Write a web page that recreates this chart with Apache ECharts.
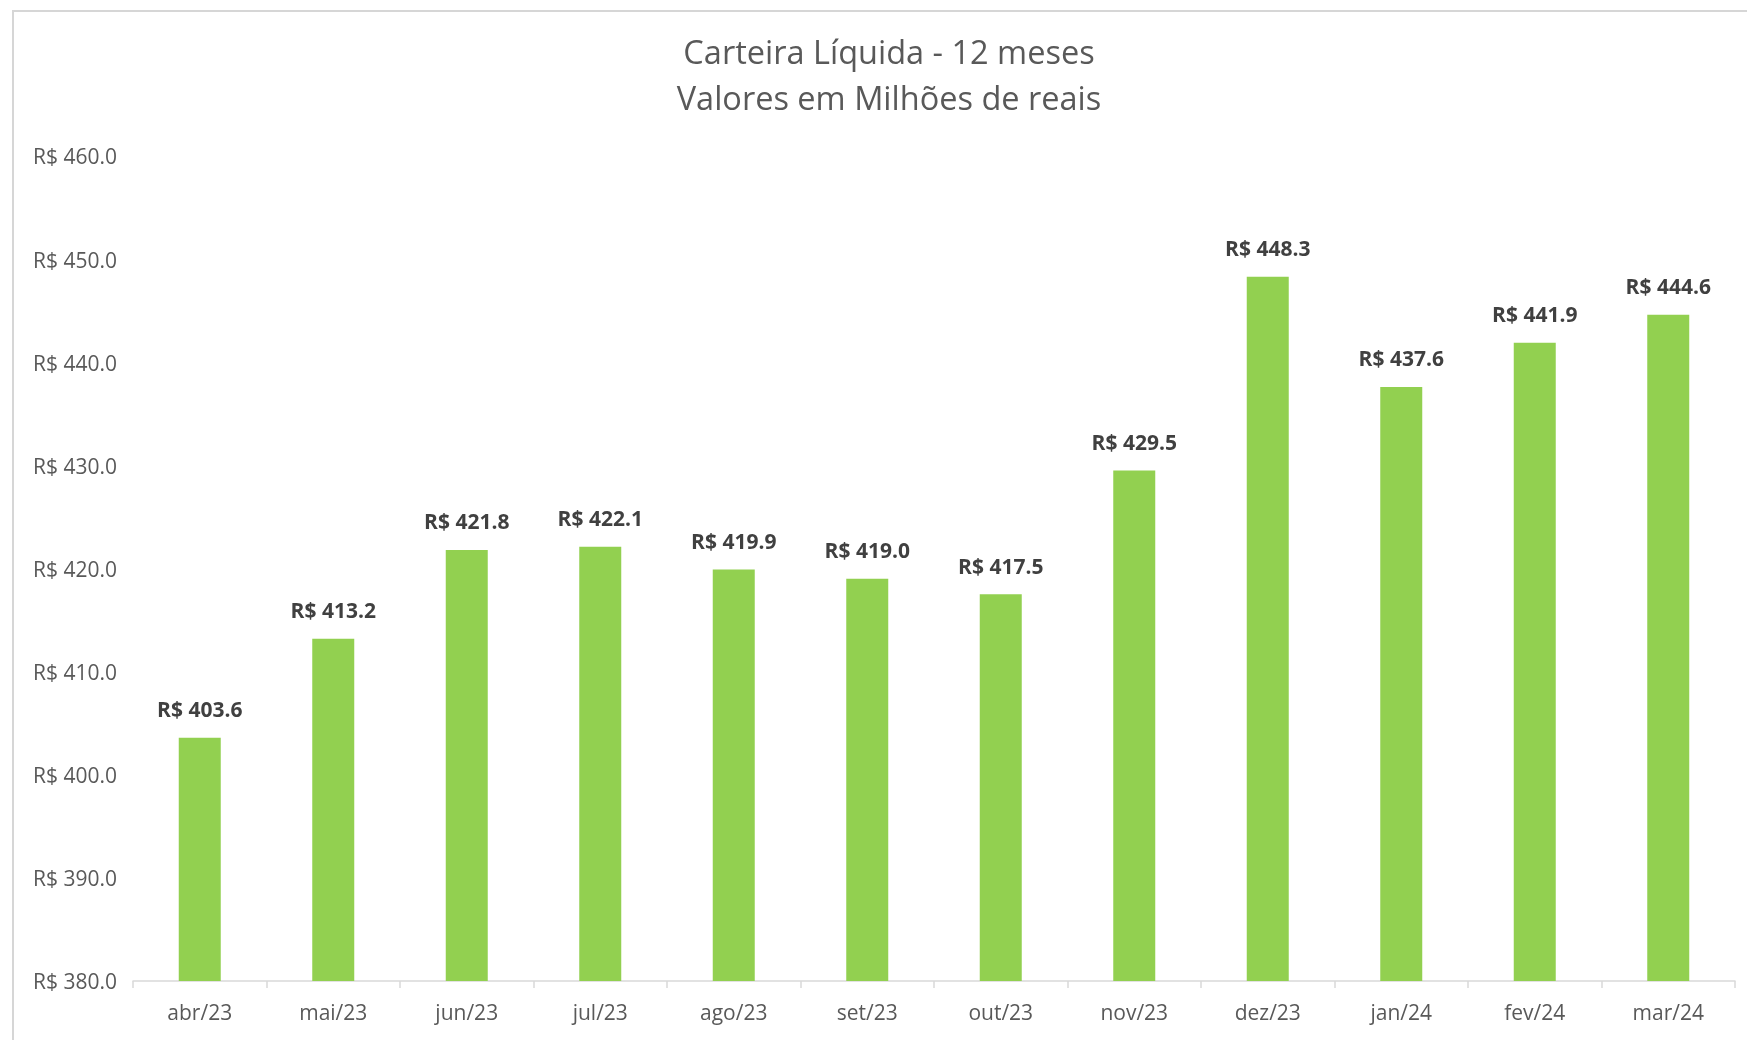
<!DOCTYPE html>
<html>
<head>
<meta charset="utf-8">
<script src="https://cdn.jsdelivr.net/npm/echarts@6/dist/echarts.min.js"></script>
<style>
html,body{margin:0;padding:0;background:#fff;}
#c{width:1747px;height:1040px;}
</style>
</head>
<body>
<div id="c"></div>
<script>
const categories = ['abr/23','mai/23','jun/23','jul/23','ago/23','set/23','out/23','nov/23','dez/23','jan/24','fev/24','mar/24'];
const values = [403.6, 413.2, 421.8, 422.1, 419.9, 419.0, 417.5, 429.5, 448.3, 437.6, 441.9, 444.6];
const yMin = 380, yMax = 460, yStep = 10;
const titleLines = ['Carteira Líquida - 12 meses', 'Valores em Milhões de reais'];

const chart = echarts.init(document.getElementById('c'), null, {renderer: 'canvas'});
const font = '"Open Sans", "Noto Sans", sans-serif';
chart.setOption({
  backgroundColor: '#ffffff',
  animation: false,
  title: {
    text: titleLines.join('\n'),
    left: 889,
    textAlign: 'center',
    top: 32,
    padding: 0,
    textStyle: {fontFamily: font, fontSize: 32.5, fontWeight: 'normal', color: '#595959', lineHeight: 46}
  },
  graphic: [
    {type: 'line', shape: {x1: 13, y1: 11, x2: 1747, y2: 11}, style: {stroke: '#d6d6d6', lineWidth: 2}},
    {type: 'line', shape: {x1: 13, y1: 10, x2: 13, y2: 1040}, style: {stroke: '#d6d6d6', lineWidth: 2}}
  ],
  grid: {left: 133, right: 12, top: 156, bottom: 59, containLabel: false},
  xAxis: {
    type: 'category',
    data: categories,
    boundaryGap: true,
    axisLine: {show: true, lineStyle: {color: '#d9d9d9', width: 1.5}},
    axisTick: {show: true, length: 7, lineStyle: {color: '#d9d9d9', width: 1.5}},
    axisLabel: {fontFamily: font, fontSize: 21, color: '#595959', margin: 23},
    splitLine: {show: false}
  },
  yAxis: {
    type: 'value',
    min: yMin, max: yMax, interval: yStep,
    axisLine: {show: false},
    axisTick: {show: false},
    splitLine: {show: false},
    axisLabel: {
      fontFamily: font, fontSize: 21, color: '#595959',
      align: 'left', margin: 100, verticalAlign: 'top', lineHeight: 5,
      formatter: v => 'R$ ' + v.toFixed(1)
    }
  },
  series: [{
    type: 'bar',
    data: values,
    barWidth: 42,
    itemStyle: {color: '#92D050'},
    label: {
      show: true, position: 'top', distance: 16,
      fontFamily: font, fontSize: 21, fontWeight: 'bold', color: '#404040',
      formatter: p => 'R$ ' + p.value.toFixed(1)
    }
  }]
});
</script>
</body>
</html>
